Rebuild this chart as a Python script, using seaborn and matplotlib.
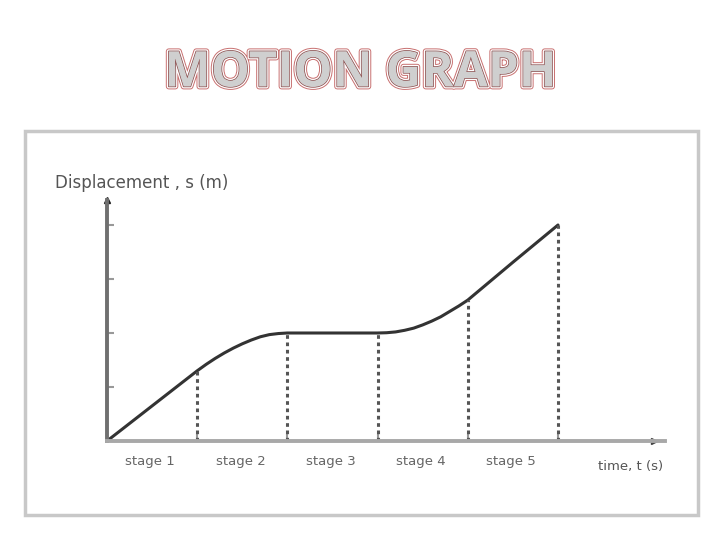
import matplotlib
matplotlib.use("Agg")
import matplotlib.pyplot as plt
import matplotlib.patheffects as pe
from matplotlib.patches import Rectangle
import seaborn as sns
import pandas as pd

# curve: stage units on x, metres on y
time_pts = [0, 1, 1.1, 1.2, 1.3, 1.4, 1.5, 1.6, 1.7, 1.8, 1.9, 2,
            3, 3.1, 3.2, 3.3, 3.4, 3.5, 3.6, 3.7, 3.8, 3.9, 4, 4.5, 5]
disp_pts = [0, 1.3, 1.42, 1.53, 1.63, 1.72, 1.80, 1.87, 1.93, 1.97, 1.99, 2.0,
            2.0, 2.005, 2.02, 2.05, 2.09, 2.15, 2.22, 2.30, 2.40, 2.50, 2.61, 3.31, 4.0]

stage_edges = [1, 2, 3, 4, 5]
stage_labels = ["stage 1", "stage 2", "stage 3", "stage 4", "stage 5"]
y_ticks = [1, 2, 3, 4]

df = pd.DataFrame({"t": time_pts, "s": disp_pts})

sns.set_style("white")
fig = plt.figure(figsize=(7.2, 5.4), dpi=100)

W, H = 720, 540

# outer frame
fig.patches.append(Rectangle((25 / W, 1 - 515 / H), (698 - 25) / W, (515 - 131) / H,
                             transform=fig.transFigure, fill=False,
                             edgecolor="#c8c8c8", linewidth=2.5))

# outlined title
fig.text(0.5, 1 - 74 / H, "MOTION GRAPH", ha="center", va="center",
         fontsize=35.5, fontweight="bold", family="Open Sans", color="#cfcfcf",
         path_effects=[pe.Stroke(linewidth=4.2, foreground="#c87070"),
                       pe.Stroke(linewidth=2.8, foreground="white"),
                       pe.Stroke(linewidth=1.0, foreground="#8a4a4a"),
                       pe.Normal()])

x0, y0, x1, y1 = 107, 441, 665, 200
ax = fig.add_axes([x0 / W, 1 - y0 / H, (x1 - x0) / W, (y0 - y1) / H])
ax.set_xlim(0, (x1 - x0) / 90.2)
ax.set_ylim(0, (y0 - y1) / 54.0)

sns.lineplot(data=df, x="t", y="s", color="#333333", linewidth=2.2, ax=ax)

# dotted drop lines at the stage boundaries
lookup = dict(zip(time_pts, disp_pts))
ax.vlines(stage_edges, 0, [lookup[e] for e in stage_edges],
          colors="#555555", linestyles=(0, (1.2, 1.2)), linewidth=2.2)

for sp in ["top", "right"]:
    ax.spines[sp].set_visible(False)
ax.spines["left"].set_color("#707070")
ax.spines["left"].set_linewidth(2.8)
ax.spines["bottom"].set_color("#a8a8a8")
ax.spines["bottom"].set_linewidth(2.8)

ax.plot(0, 1, marker="^", color="#222222", markersize=5,
        transform=ax.transAxes, clip_on=False)
ax.plot(0.98, 0, marker=">", color="#444444", markersize=5,
        transform=ax.transAxes, clip_on=False)

ax.set_xticks(stage_edges)
ax.set_yticks(y_ticks)
ax.tick_params(axis="both", direction="in", length=5, width=1.5,
               color="#999999", labelleft=False, labelbottom=False, left=True, bottom=True)
ax.set_xlabel("")
ax.set_ylabel("")

for i, lab in enumerate(stage_labels):
    ax.text(i + 0.48, -0.38, lab, ha="center", va="center", fontsize=9.5, color="#666666")
ax.text(5.8, -0.48, "time, t (s)", ha="center", va="center", fontsize=9.5, color="#555555")
fig.text(55 / W, 1 - 183 / H, "Displacement , s (m)", ha="left", va="center",
         fontsize=12, color="#555555")

fig.savefig("out.png", dpi=100)
